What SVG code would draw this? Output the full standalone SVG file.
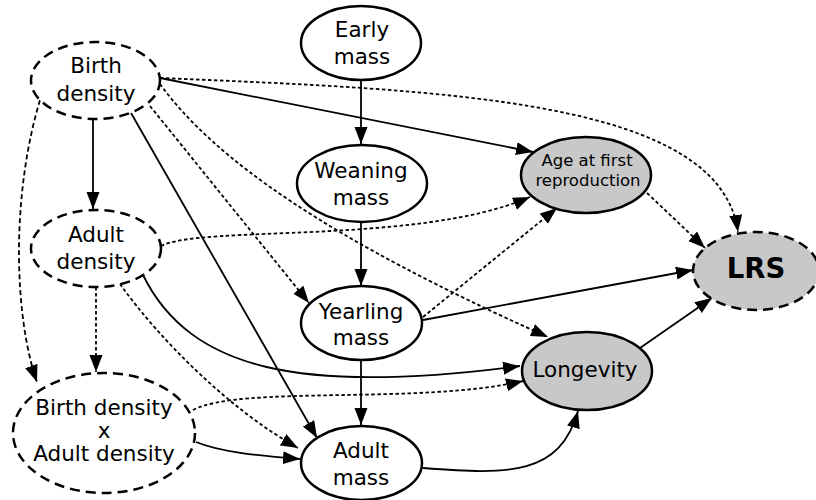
<svg xmlns="http://www.w3.org/2000/svg" width="816" height="500" viewBox="0 0 816 500">
<style>
.n{fill:#fff;stroke:#000;stroke-width:2.5}
.g{fill:#c8c8c8}
.d{stroke-dasharray:10,6}
.t{font-family:"DejaVu Sans",sans-serif;font-size:21.5px;text-anchor:middle;fill:#000}
.s{font-size:16.5px}
.e{fill:none;stroke:#000;stroke-width:1.8;marker-end:url(#a)}
.dot{stroke-dasharray:3.5,2.5}
.dash{stroke-dasharray:5,3}
</style>
<defs>
<marker id="a" markerUnits="userSpaceOnUse" markerWidth="18" markerHeight="14" refX="17" refY="6.5" orient="auto">
<path d="M0,0 L17,6.5 L0,13 z" fill="#000" stroke="none"/>
</marker>
</defs>
<rect width="816" height="500" fill="#fff"/>
<g id="connectors">
<path class="e" d="M361,80 L361,144"/>
<path class="e" d="M361,222 L361,286"/>
<path class="e" d="M361,360 L361,425"/>
<path class="e" d="M93,119 L93,209"/>
<path class="e" d="M160,78 L533,152"/>
<path class="e dot" d="M160,78 C450,90 720,100 738,232"/>
<path class="e" d="M131,113 L317,438"/>
<path class="e dot" d="M150,106 L309,303"/>
<path class="e dot" d="M160,84 C215,160 330,240 548,337"/>
<path class="e dash" d="M40,100 C10,200 15,320 37,382"/>
<path class="e dot" d="M161,246 C200,225 420,245 530,197"/>
<path class="e dot" d="M96,287 L96,372"/>
<path class="e" d="M143,275 C190,370 300,395 520,366"/>
<path class="e dot" d="M120,284 C160,340 230,410 298,448"/>
<path class="e dot" d="M193,410 C240,385 420,405 523,381"/>
<path class="e" d="M196,442 C220,452 260,456 300,459"/>
<path class="e dot" d="M423,317 L557,208"/>
<path class="e" d="M423,320 L693,270"/>
<path class="e dot" d="M647,193 L705,248"/>
<path class="e" d="M640,348 L712,298"/>
<path class="e" d="M423,468 C510,475 560,475 578,411"/>
</g>
<g id="early-mass">
<ellipse class="n" cx="361" cy="43" rx="60" ry="37"/>
<text class="t" x="362" y="37">Early</text>
<text class="t" x="362" y="64">mass</text>
</g>
<g id="weaning-mass">
<ellipse class="n" cx="362" cy="183.5" rx="65" ry="38.5"/>
<text class="t" x="361" y="178">Weaning</text>
<text class="t" x="361" y="205">mass</text>
</g>
<g id="yearling-mass">
<ellipse class="n" cx="361.5" cy="323" rx="60.5" ry="37"/>
<text class="t" x="361" y="319">Yearling</text>
<text class="t" x="361" y="345">mass</text>
</g>
<g id="adult-mass">
<ellipse class="n" cx="361.5" cy="463" rx="60.5" ry="37"/>
<text class="t" x="361" y="458">Adult</text>
<text class="t" x="361" y="485">mass</text>
</g>
<g id="age-first-reproduction">
<ellipse class="n g" cx="586" cy="175" rx="65" ry="38"/>
<text class="t s" x="587" y="166">Age at first</text>
<text class="t s" x="588" y="186">reproduction</text>
</g>
<g id="longevity">
<ellipse class="n g" cx="587" cy="371" rx="65" ry="39"/>
<text class="t" x="585" y="377">Longevity</text>
</g>
<g id="lrs">
<ellipse class="n g d" cx="756" cy="271" rx="63" ry="39"/>
<text class="t" x="756" y="278" style="font-size:27.5px;font-weight:bold">LRS</text>
</g>
<g id="birth-density">
<ellipse class="n d" cx="95.5" cy="80.5" rx="64.5" ry="38.5"/>
<text class="t" x="96" y="73">Birth</text>
<text class="t" x="96" y="101">density</text>
</g>
<g id="adult-density">
<ellipse class="n d" cx="96" cy="248.5" rx="65" ry="38.5"/>
<text class="t" x="96" y="242">Adult</text>
<text class="t" x="96" y="269">density</text>
</g>
<g id="birth-x-adult-density">
<ellipse class="n d" cx="104" cy="433" rx="91" ry="60"/>
<text class="t" x="104" y="415">Birth density</text>
<text class="t" x="104" y="438">x</text>
<text class="t" x="104" y="461">Adult density</text>
</g>
</svg>
